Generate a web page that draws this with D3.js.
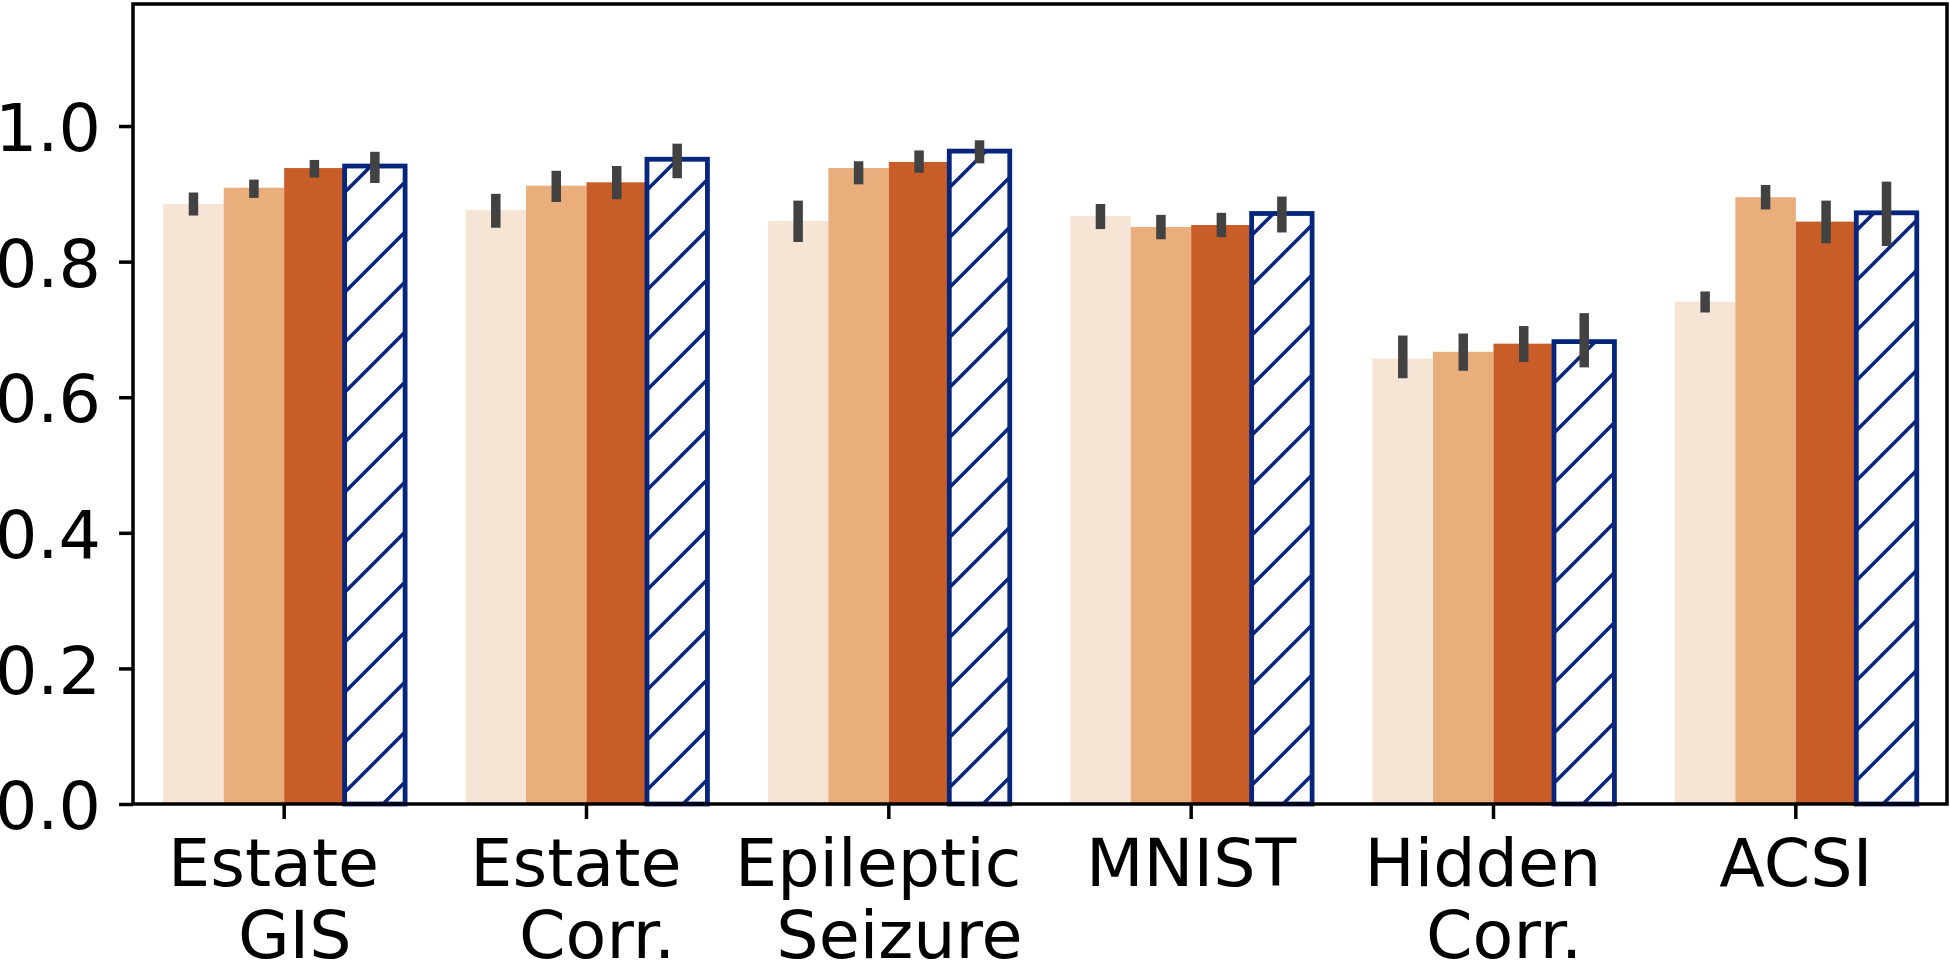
<!DOCTYPE html>
<html>
<head>
<meta charset="utf-8">
<script src="https://cdn.jsdelivr.net/npm/d3@7/dist/d3.min.js"></script>
<style>
html, body { margin: 0; padding: 0; background: #fff; }
svg { display: block; }
text { font-family: "DejaVu Sans", sans-serif; }
</style>
</head>
<body>
<svg id="chart" width="1950" height="961"></svg>
<script>
// ---- data ----
const categories = ["Estate\nGIS", "Estate\nCorr.", "Epileptic\nSeizure", "MNIST", "Hidden\nCorr.", "ACSI"];
const seriesNames = ["S1", "S2", "S3", "S4"];
const values = [
  [0.885, 0.876, 0.860, 0.867, 0.657, 0.741],
  [0.909, 0.912, 0.938, 0.851, 0.667, 0.895],
  [0.938, 0.917, 0.947, 0.854, 0.679, 0.859],
  [0.941, 0.951, 0.963, 0.871, 0.682, 0.872]
];
const errLow = [
  [0.868, 0.850, 0.829, 0.848, 0.628, 0.725],
  [0.894, 0.888, 0.914, 0.833, 0.639, 0.877],
  [0.924, 0.892, 0.931, 0.836, 0.652, 0.827],
  [0.916, 0.923, 0.945, 0.843, 0.644, 0.823]
];
const errHigh = [
  [0.902, 0.900, 0.890, 0.885, 0.691, 0.756],
  [0.921, 0.934, 0.948, 0.869, 0.694, 0.913],
  [0.950, 0.941, 0.964, 0.872, 0.705, 0.890],
  [0.962, 0.974, 0.979, 0.896, 0.724, 0.918]
];
const yTicks = [0.0, 0.2, 0.4, 0.6, 0.8, 1.0];
const yMax = 1.18;

const fills = ["#f6e5d5", "#eaae7c", "#c95d28"];
const hatchColor = "#06257d";
const errColor = "#424242";

// ---- layout ----
const mLeft = 133, mRight = 1947, mTop = 4, mBottom = 804;
const fontSize = 66.7;
const svg = d3.select("#chart");

const x = d3.scaleBand().domain(d3.range(categories.length)).range([mLeft, mRight])
  .paddingInner(0.2).paddingOuter(0.1);
const xs = d3.scaleBand().domain(d3.range(seriesNames.length)).range([0, x.bandwidth()]).padding(0);
const y = d3.scaleLinear().domain([0, yMax]).range([mBottom, mTop]);

// hatch pattern, anchored in absolute coords (x+y = 37 mod 50)
const defs = svg.append("defs");
const pat = defs.append("pattern").attr("id", "hatch")
  .attr("patternUnits", "userSpaceOnUse").attr("width", 50).attr("height", 50);
pat.append("rect").attr("width", 50).attr("height", 50).attr("fill", "#fff");
[[-10, 47, 47, -10], [27, 60, 60, 27]].forEach(l => {
  pat.append("line").attr("x1", l[0]).attr("y1", l[1]).attr("x2", l[2]).attr("y2", l[3])
    .attr("stroke", hatchColor).attr("stroke-width", 3.5);
});

// bars
const barData = [];
seriesNames.forEach((s, j) => {
  categories.forEach((c, i) => {
    barData.push({i, j, v: values[j][i], lo: errLow[j][i], hi: errHigh[j][i]});
  });
});

const g = svg.append("g");
g.selectAll("rect.bar").data(barData.filter(d => d.j < 3)).join("rect")
  .attr("class", "bar")
  .attr("x", d => x(d.i) + xs(d.j))
  .attr("width", xs.bandwidth())
  .attr("y", d => y(d.v))
  .attr("height", d => y(0) - y(d.v))
  .attr("fill", d => fills[d.j]);

g.selectAll("rect.hbar").data(barData.filter(d => d.j === 3)).join("rect")
  .attr("class", "hbar")
  .attr("x", d => x(d.i) + xs(d.j))
  .attr("width", xs.bandwidth())
  .attr("y", d => y(d.v))
  .attr("height", d => y(0) - y(d.v))
  .attr("fill", "url(#hatch)")
  .attr("stroke", hatchColor)
  .attr("stroke-width", 4.8);

// error bars
g.selectAll("line.err").data(barData).join("line")
  .attr("class", "err")
  .attr("x1", d => x(d.i) + xs(d.j) + xs.bandwidth() / 2)
  .attr("x2", d => x(d.i) + xs(d.j) + xs.bandwidth() / 2)
  .attr("y1", d => y(d.lo))
  .attr("y2", d => y(d.hi))
  .attr("stroke", errColor)
  .attr("stroke-width", 9.5);

// frame
svg.append("rect").attr("x", mLeft).attr("y", mTop)
  .attr("width", mRight - mLeft).attr("height", mBottom - mTop)
  .attr("fill", "none").attr("stroke", "#000").attr("stroke-width", 3.5);

// y axis
const yAxis = d3.axisLeft(y).tickValues(yTicks).tickFormat(d3.format(".1f")).tickSize(14).tickPadding(18);
const ya = svg.append("g").attr("transform", `translate(${mLeft},0)`).call(yAxis);
ya.select(".domain").remove();
ya.selectAll(".tick line").attr("stroke", "#000").attr("stroke-width", 3.5);
ya.selectAll(".tick text").attr("font-size", fontSize).attr("fill", "#000")
  .attr("font-family", "DejaVu Sans").attr("dy", "0.37em");

// x axis
const xAxis = d3.axisBottom(x).tickSize(15).tickFormat("");
const xa = svg.append("g").attr("transform", `translate(0,${mBottom})`).call(xAxis);
xa.select(".domain").remove();
xa.selectAll(".tick line").attr("stroke", "#000").attr("stroke-width", 3.5);

// two-line labels: first line carries a trailing space, second a leading space
const halfSpace = 0.318 * fontSize / 2;
svg.append("g").selectAll("text.xl").data(categories).join("text")
  .attr("class", "xl")
  .attr("x", (d, i) => x(i) + x.bandwidth() / 2)
  .attr("y", 886)
  .attr("text-anchor", "middle")
  .attr("font-size", fontSize)
  .attr("fill", "#000")
  .each(function(d) {
    const lines = d.split("\n");
    const t = d3.select(this);
    const cx = +t.attr("x");
    lines.forEach((ln, k) => {
      const shift = lines.length > 1 ? (k === 0 ? -halfSpace : halfSpace) : 0;
      t.append("tspan").attr("x", cx + shift).attr("dy", k === 0 ? 0 : 72).text(ln);
    });
  });
</script>
</body>
</html>
